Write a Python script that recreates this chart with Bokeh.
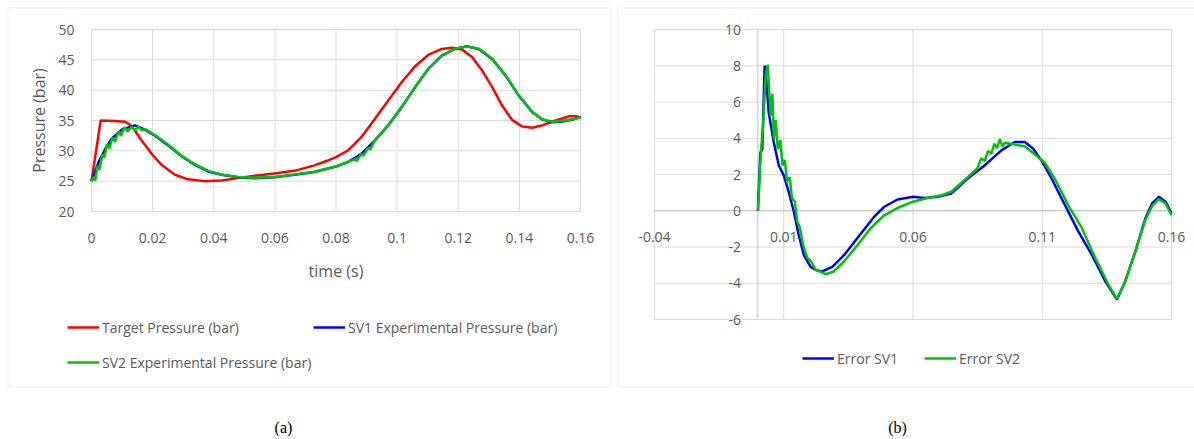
from bokeh.plotting import figure
from bokeh.layouts import row
from bokeh.models import (FixedTicker, Legend, LegendItem, BoxAnnotation, Label,
                          LinearAxis, Range1d)
from bokeh.embed import file_html
from bokeh.resources import INLINE

# ---------------- data: panel (a) ----------------
t_target = [0, 0.003, 0.0077, 0.011, 0.0126, 0.0142, 0.0164, 0.0197, 0.0229, 0.0273, 0.0316,
            0.037, 0.0425, 0.0479, 0.0534, 0.0599, 0.0664, 0.0729, 0.0773, 0.08, 0.0839, 0.0883,
            0.0927, 0.0971, 0.1015, 0.1059, 0.1102, 0.1146, 0.1179, 0.1212, 0.1245, 0.1278,
            0.1311, 0.1343, 0.1376, 0.1409, 0.1442, 0.1475, 0.1519, 0.1563, 0.1585, 0.16]
p_target = [25.0, 35.0, 34.9, 34.8, 34.3, 33.35, 31.7, 29.5, 27.7, 26.05, 25.3,
            25.0, 25.1, 25.5, 25.9, 26.25, 26.7, 27.6, 28.4, 28.95, 30.05, 32.25,
            35.25, 38.3, 41.3, 43.95, 45.8, 46.8, 47.0, 46.7, 45.45, 43.25,
            40.5, 37.5, 35.1, 34.0, 33.8, 34.2, 35.0, 35.7, 35.7, 35.5]

t_sv1 = [0, 0.0023, 0.0045, 0.0066, 0.0099, 0.0142, 0.0175, 0.0208, 0.0251, 0.0295, 0.0338,
         0.0382, 0.0425, 0.0479, 0.0534, 0.0599, 0.0664, 0.0729, 0.08, 0.0839, 0.0883, 0.0927,
         0.0971, 0.1015, 0.1059, 0.1102, 0.1146, 0.119, 0.1228, 0.1267, 0.1311, 0.1355,
         0.1398, 0.1442, 0.1475, 0.1508, 0.1541, 0.1574, 0.16]
p_sv1 = [25.0, 28.1, 30.3, 32.0, 33.5, 34.2, 33.5, 32.5, 30.9, 29.1, 27.7,
         26.6, 26.05, 25.65, 25.5, 25.65, 26.05, 26.5, 27.4, 28.15, 29.5, 31.7,
         34.2, 37.2, 40.5, 43.5, 45.7, 46.8, 47.25, 46.8, 45.15, 42.4,
         39.1, 36.4, 35.15, 34.7, 34.85, 35.15, 35.55]

t_sv2 = [0, 0.0007, 0.0012, 0.002, 0.0026, 0.0036, 0.0042, 0.0051, 0.0059, 0.0068, 0.0077,
         0.0088, 0.0097, 0.0108, 0.0118, 0.0132, 0.0142, 0.0153, 0.0164, 0.0175, 0.0208,
         0.0251, 0.0295, 0.0338, 0.0382, 0.0425, 0.0479, 0.0534, 0.0599, 0.0664, 0.0729,
         0.08, 0.0839, 0.0862, 0.0868, 0.0883, 0.089, 0.0905, 0.0912, 0.0927, 0.0971,
         0.1015, 0.1059, 0.1102, 0.1146, 0.119, 0.1228, 0.1267, 0.1311, 0.1355, 0.1398,
         0.1442, 0.1475, 0.1508, 0.1541, 0.1574, 0.16]
p_sv2 = [25.0, 25.7, 25.1, 27.5, 26.9, 29.4, 28.9, 31.1, 30.4, 32.2, 31.5,
         33.2, 32.5, 33.9, 33.2, 34.0, 33.4, 34.0, 33.4, 33.6, 32.6,
         31.0, 29.2, 27.8, 26.7, 26.1, 25.7, 25.55, 25.7, 26.1, 26.55,
         27.45, 28.2, 28.6, 28.3, 29.5, 29.2, 30.5, 30.2, 31.75, 34.25,
         37.25, 40.55, 43.55, 45.75, 46.85, 47.2, 46.85, 45.2, 42.45, 39.15,
         36.45, 35.2, 34.8, 34.95, 35.2, 35.5]

xticks_a = [0, 0.02, 0.04, 0.06, 0.08, 0.1, 0.12, 0.14, 0.16]
xlabels_a = ["0", "0.02", "0.04", "0.06", "0.08", "0.1", "0.12", "0.14", "0.16"]
yticks_a = [20, 25, 30, 35, 40, 45, 50]

# ---------------- data: panel (b) ----------------
t_err1 = [0, 0.00093, 0.0017, 0.0026, 0.0033, 0.0042, 0.0061, 0.0081, 0.01, 0.0119, 0.0139,
          0.0158, 0.0178, 0.0204, 0.023, 0.0249, 0.0288, 0.0333, 0.0385, 0.045, 0.0489,
          0.054, 0.06, 0.0644, 0.0696, 0.0748, 0.0812, 0.0877, 0.0942, 0.0994, 0.1033,
          0.1065, 0.11, 0.1136, 0.1188, 0.124, 0.1292, 0.1344, 0.1389, 0.1421, 0.146,
          0.1499, 0.1525, 0.1551, 0.1577, 0.16]
e_sv1 = [0, 3.2, 3.4, 8.0, 7.1, 5.4, 3.8, 2.5, 1.95, 1.05, -0.05,
         -1.35, -2.45, -3.1, -3.3, -3.35, -3.1, -2.45, -1.5, -0.33, 0.22,
         0.62, 0.77, 0.71, 0.77, 0.95, 1.78, 2.5, 3.33, 3.79, 3.79,
         3.42, 2.7, 1.78, 0.31, -1.15, -2.44, -3.9, -4.9, -3.9, -2.25,
         -0.42, 0.4, 0.77, 0.5, -0.15]

t_err2 = [0, 0.0012, 0.002, 0.003, 0.0038, 0.0044, 0.005, 0.0056, 0.0062, 0.0069, 0.0077,
          0.0087, 0.0095, 0.0104, 0.0113, 0.0123, 0.0132, 0.0143, 0.0152, 0.0162, 0.0175,
          0.0191, 0.0206, 0.0223, 0.0262, 0.0294, 0.0333, 0.0385, 0.0437, 0.0489, 0.054,
          0.06, 0.0657, 0.0709, 0.0748, 0.0812, 0.085, 0.0864, 0.0878, 0.089, 0.0903,
          0.0915, 0.0925, 0.0936, 0.0946, 0.0955, 0.0994, 0.1033, 0.1072, 0.111, 0.1149,
          0.1201, 0.1253, 0.1305, 0.1357, 0.1389, 0.1421, 0.146, 0.1499, 0.1525, 0.1551,
          0.1577, 0.16]
e_sv2 = [0, 3.3, 4.7, 7.45, 8.05, 6.55, 5.25, 6.45, 3.95, 5.0, 3.4,
         3.9, 2.5, 2.8, 1.6, 1.85, 0.7, 0.5, -0.6, -0.9, -1.9,
         -2.6, -2.8, -3.25, -3.5, -3.35, -2.8, -1.9, -0.95, -0.25, 0.15,
         0.5, 0.7, 0.85, 1.05, 1.85, 2.35, 2.9, 2.75, 3.3, 3.15,
         3.7, 3.45, 3.95, 3.55, 3.75, 3.65, 3.55, 3.1, 2.65, 1.75,
         0.3, -0.95, -2.6, -4.1, -4.85, -3.9, -2.25, -0.5, 0.25, 0.65,
         0.4, -0.25]

xticks_b = [-0.04, 0.01, 0.06, 0.11, 0.16]
xlabels_b = ["-0.04", "0.01", "0.06", "0.11", "0.16"]
yticks_b = [-6, -4, -2, 0, 2, 4, 6, 8, 10]

names_a = ["Target Pressure (bar)", "SV1 Experimental Pressure (bar)", "SV2 Experimental Pressure (bar)"]
names_b = ["Error SV1", "Error SV2"]
captions = ["(a)", "(b)"]

# ---------------- styling ----------------
FONT = "Open Sans"
TXT = "#595959"
GRID = "#d9d9d9"
AXIS = "#bfbfbf"
RED, BLUE, GREEN = "#ff0000", "#0000ff", "#00c400"
LW = 2.5
FS = "14px"
H = 439


def make_fig(W, fx0, fx1, fy0, fy1, x0, x1, y0, y1):
    """Figure whose frame is the whole canvas; data box [x0,x1]x[y0,y1]
    is placed at pixels fx0..fx1 (left-right), fy0..fy1 (top-bottom)."""
    sx = (fx1 - fx0) / (x1 - x0)
    sy = (fy1 - fy0) / (y1 - y0)
    xr = Range1d(x0 - fx0 / sx, x1 + (W - fx1) / sx)
    yr = Range1d(y0 - (H - fy1) / sy, y1 + fy0 / sy)
    p = figure(width=W, height=H, x_range=xr, y_range=yr, x_axis_type=None, y_axis_type=None,
               output_backend="svg", toolbar_location=None, min_border=0,
               min_border_left=0, min_border_right=0, min_border_top=0, min_border_bottom=0)
    p.outline_line_color = None
    p.background_fill_color = "white"
    p.border_fill_color = "white"

    def px2x(px):
        return x0 + (px - fx0) / sx

    def py2y(py):
        return y1 - (py - fy0) / sy
    return p, px2x, py2y


def style_axis(ax, standoff):
    ax.major_tick_line_color = None
    ax.minor_tick_line_color = None
    ax.axis_line_color = None
    ax.major_label_standoff = standoff
    ax.major_label_text_font = FONT
    ax.major_label_text_font_size = FS
    ax.major_label_text_color = TXT
    ax.axis_label_text_font = FONT
    ax.axis_label_text_font_size = "16px"
    ax.axis_label_text_color = TXT
    ax.axis_label_text_font_style = "normal"


def add_grid(p, xt, yt, color=GRID):
    n, m = len(xt), len(yt)
    p.segment(x0=xt, y0=[yt[0]] * n, x1=xt, y1=[yt[-1]] * n, line_color=color, line_width=1)
    p.segment(x0=[xt[0]] * m, y0=yt, x1=[xt[-1]] * m, y1=yt, line_color=color, line_width=1)


def add_legend(p, label, renderer, loc):
    lg = Legend(items=[LegendItem(label=label, renderers=[renderer])], location=loc,
                orientation="horizontal", padding=0, margin=0, spacing=0,
                border_line_color=None, background_fill_alpha=0,
                glyph_width=32, glyph_height=20, label_height=20, label_standoff=3,
                label_text_font=FONT, label_text_font_size=FS, label_text_color=TXT)
    p.add_layout(lg)


def add_box(p, px2x, py2y, l, r, t, b):
    p.add_layout(BoxAnnotation(left=px2x(l), right=px2x(r), top=py2y(t), bottom=py2y(b),
                               fill_color=None, fill_alpha=0, line_color=GRID, line_width=1.5,
                               level="underlay"))


def add_caption(p, px2x, py2y, text, px, py):
    p.add_layout(Label(x=px2x(px), y=py2y(py), text=text,
                       text_align="center", text_baseline="middle",
                       text_font="Liberation Serif", text_font_size="16px", text_color="black"))


# ---------------- panel (a) ----------------
WA = 614
pa, ax_x, ax_y = make_fig(WA, 91, 580, 29, 211, xticks_a[0], xticks_a[-1], yticks_a[0], yticks_a[-1])
add_grid(pa, xticks_a, yticks_a)

xa = LinearAxis(fixed_location=yticks_a[0], ticker=FixedTicker(ticks=xticks_a),
                major_label_overrides={v: s for v, s in zip(xticks_a, xlabels_a)},
                axis_label="time (s)", bounds=(xticks_a[0], xticks_a[-1]))
style_axis(xa, 15)
xa.axis_label_standoff = 14
pa.add_layout(xa, "below")
ya = LinearAxis(fixed_location=xticks_a[0], ticker=FixedTicker(ticks=yticks_a),
                axis_label="Pressure (bar)", bounds=(yticks_a[0], yticks_a[-1]))
style_axis(ya, 11)
ya.axis_label_standoff = 5
pa.add_layout(ya, "left")

r_t = pa.line(t_target, p_target, line_color=RED, line_width=LW)
r_1 = pa.line(t_sv1, p_sv1, line_color=BLUE, line_width=LW)
r_2 = pa.line(t_sv2, p_sv2, line_color=GREEN, line_width=LW)
add_legend(pa, names_a[0], r_t, (67, H - 337))
add_legend(pa, names_a[1], r_1, (313, H - 337))
add_legend(pa, names_a[2], r_2, (67, H - 372))
add_box(pa, ax_x, ax_y, 7.5, 610.5, 7.5, 386.5)
add_caption(pa, ax_x, ax_y, captions[0], 283, 427)

# ---------------- panel (b) ----------------
WB = 1194 - WA
pb, bx_x, bx_y = make_fig(WB, 40, 557, 29, 319, xticks_b[0], xticks_b[-1], yticks_b[0], yticks_b[-1])
add_grid(pb, xticks_b, yticks_b)
# axis lines crossing at zero
pb.segment(x0=[xticks_b[0], 0], y0=[0, yticks_b[0]], x1=[xticks_b[-1], 0], y1=[0, yticks_b[-1]],
           line_color=AXIS, line_width=1)

xb = LinearAxis(fixed_location=0, ticker=FixedTicker(ticks=xticks_b),
                major_label_overrides={v: s for v, s in zip(xticks_b, xlabels_b)},
                bounds=(xticks_b[0], xticks_b[-1]))
style_axis(xb, 15)
pb.add_layout(xb, "below")
yb = LinearAxis(fixed_location=0, ticker=FixedTicker(ticks=yticks_b),
                major_label_overrides={v: str(v) for v in yticks_b},
                bounds=(yticks_b[0], yticks_b[-1]))
style_axis(yb, 11)
pb.add_layout(yb, "left")

r_e1 = pb.line(t_err1, e_sv1, line_color=BLUE, line_width=LW)
r_e2 = pb.line(t_err2, e_sv2, line_color=GREEN, line_width=LW)
add_legend(pb, names_b[0], r_e1, (802 - WA, H - 368))
add_legend(pb, names_b[1], r_e2, (924 - WA, H - 368))
add_box(pb, bx_x, bx_y, 617.5 - WA, 700, 7.5, 386.5)
add_caption(pb, bx_x, bx_y, captions[1], 897 - WA, 427)

layout = row(pa, pb)
open("out.html", "w").write(file_html(layout, INLINE))
